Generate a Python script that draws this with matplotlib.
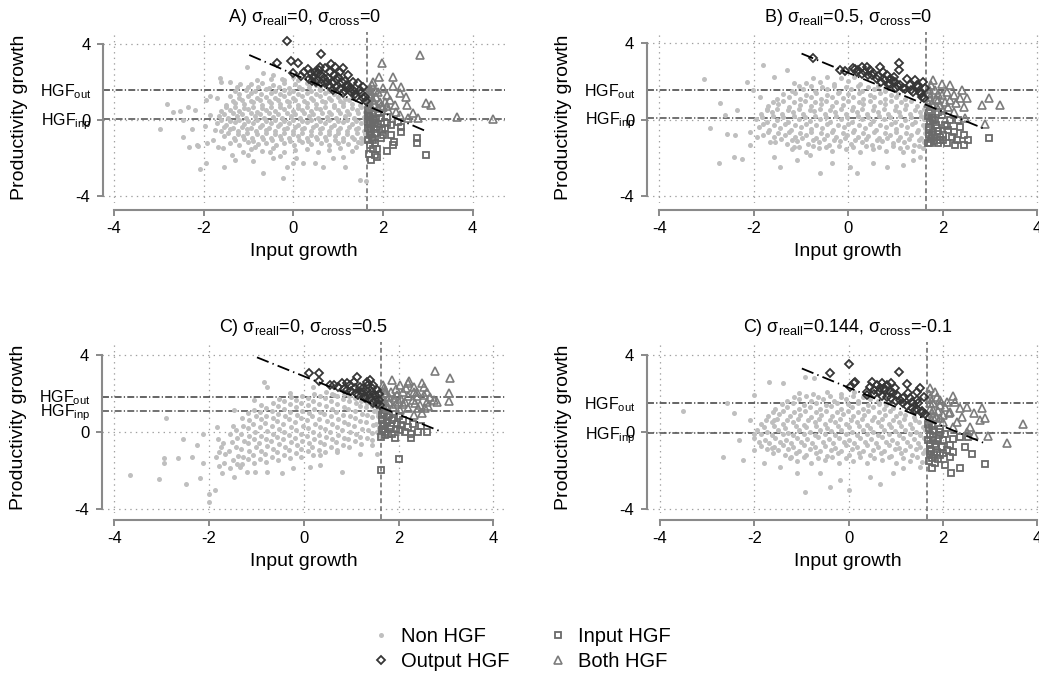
import matplotlib
matplotlib.use('Agg')
import matplotlib.pyplot as plt
from matplotlib.lines import Line2D
from matplotlib.transforms import blended_transform_factory

plt.rcParams['font.family'] = ['Liberation Sans', 'DejaVu Sans']
plt.rcParams['mathtext.fontset'] = 'custom'
plt.rcParams['mathtext.rm'] = 'Liberation Sans'
plt.rcParams['mathtext.it'] = 'Liberation Sans:italic'
plt.rcParams['axes.unicode_minus'] = False
plt.rcParams['lines.scale_dashes'] = False

# marker / line colours
GREY_DOT = '#bfbfbf'
OUT_C = '#363636'
INP_C = '#6a6a6a'
BOTH_C = '#7c7c7c'
AXIS_C = '#8a8a8a'

# ---------------- A) sigma_reall=0, sigma_cross=0 ----------------
a_non = [(-2.97,-0.47),(-2.82,0.84),(-2.69,0.42),(-2.52,0.47),(-2.46,0.0),(-2.45,-0.91),(-2.32,-1.4),
         (-2.12,-1.35),(-2.08,-2.58),(-1.94,-2.25),(-1.54,-2.46),(-1.04,2.77),(-1.63,2.19),(-0.68,-2.81),
         (-0.22,-3.07),(-2.34,0.67),(-2.19,0.53),(-2.26,-0.49),(-2.15,-1.32),(-1.93,-1.23),(-1.97,-0.33),
         (-1.86,0.28),(-1.94,1.07),(-1.86,1.25),(-1.71,1.16),(-1.6,2.0),(-1.41,2.0),(-1.26,1.74),(-1.19,1.9),
         (-1.74,-0.53),(-1.78,-1.05),(-1.67,-1.4),(-1.56,-1.49),(-1.3,-2.11),(-1.37,-1.84),(-1.11,-1.67),
         (-1.0,-1.84),(-0.89,-2.16),(-0.85,-1.4),(-0.44,-2.02),(-0.3,-1.9),(-0.15,-2.46),(0.0,-2.28),
         (-0.52,-1.67),(-0.67,2.46),(-0.45,2.37),(-0.26,2.14),(0.0,2.28),(1.49,-3.16),(1.62,-3.2),
         (1.15,-2.46),(0.67,-2.46),(0.48,-2.28),(0.22,-2.28),(1.11,-1.93),(1.41,-1.4),(1.52,-1.23),
         (0.89,-2.02),(0.07,-2.02),
         (-0.95,-1.55),(-0.7,-1.65),(-0.45,-1.5),(-0.2,-1.7),(0.05,-1.6),(0.3,-1.52),(0.55,-1.68),(0.8,-1.58),
         (1.05,-1.45),(1.3,-1.62),
         (-1.42,-1.2),(-1.2,-1.3),(-1.0,-1.18),(-0.78,-1.28),(-0.6,-1.2),(-0.38,-1.33),(-0.2,-1.22),(0.02,-1.3),
         (0.2,-1.17),(0.4,-1.27),(0.62,-1.2),(0.8,-1.32),(1.0,-1.22),(1.22,-1.28),(1.45,-1.15),
         (-1.3,-1.05),(-1.1,-1.0),(-0.9,-1.1),(-0.68,-1.02),(-0.48,-1.08),(-0.28,-1.0),(-0.08,-1.1),
         (0.12,-1.03),(0.32,-1.1),(0.52,-1.0),(0.72,-1.08),(0.92,-1.03),(1.12,-1.1),(1.35,-1.02),(1.55,-1.08),
         (-1.55,-0.85),(-1.33,-0.95),(-1.12,-0.86),(-0.92,-0.97),(-0.7,-0.88),(-0.5,-0.94),(-0.3,-0.82),
         (-0.1,-0.93),(0.1,-0.86),(0.3,-0.97),(0.5,-0.88),(0.7,-0.92),(0.92,-0.84),(1.1,-0.96),(1.3,-0.88),
         (1.52,-0.93),
         (-1.45,-0.7),(-1.22,-0.76),(-1.02,-0.68),(-0.8,-0.75),(-0.6,-0.7),(-0.4,-0.76),(-0.2,-0.68),
         (0.0,-0.75),(0.2,-0.7),(0.4,-0.77),(0.6,-0.69),(0.8,-0.75),(1.0,-0.7),(1.2,-0.76),(1.42,-0.7),
         (1.6,-0.74),
         (-1.62,-0.6),(-1.42,-0.5),(-1.22,-0.58),(-1.02,-0.48),(-0.82,-0.6),(-0.6,-0.52),(-0.4,-0.57),
         (-0.2,-0.47),(0.0,-0.6),(0.2,-0.5),(0.4,-0.58),(0.6,-0.5),(0.8,-0.6),(1.0,-0.52),(1.2,-0.57),
         (1.4,-0.48),(1.58,-0.56),
         (-1.55,-0.36),(-1.35,-0.4),(-1.15,-0.35),(-0.95,-0.42),(-0.75,-0.36),(-0.55,-0.4),(-0.35,-0.34),
         (-0.15,-0.41),(0.05,-0.36),(0.25,-0.42),(0.45,-0.35),(0.65,-0.4),(0.85,-0.36),(1.05,-0.42),
         (1.25,-0.35),(1.45,-0.4),(1.62,-0.36),
         (-1.7,-0.15),(-1.5,-0.25),(-1.3,-0.12),(-1.1,-0.23),(-0.9,-0.16),(-0.7,-0.26),(-0.5,-0.14),
         (-0.3,-0.22),(-0.1,-0.17),(0.1,-0.27),(0.3,-0.13),(0.5,-0.24),(0.7,-0.16),(0.9,-0.25),(1.1,-0.12),
         (1.3,-0.22),(1.5,-0.18),
         (-1.6,0.0),(-1.4,-0.05),(-1.2,0.02),(-1.0,-0.04),(-0.8,0.02),(-0.6,-0.04),(-0.4,0.0),(-0.2,-0.05),
         (0.0,0.02),(0.2,-0.04),(0.4,0.0),(0.6,-0.05),(0.8,0.01),(1.0,-0.04),(1.2,0.02),(1.4,-0.04),(1.6,0.0),
         (-1.65,0.2),(-1.45,0.1),(-1.25,0.22),(-1.05,0.12),(-0.85,0.2),(-0.65,0.08),(-0.45,0.18),(-0.25,0.12),
         (-0.05,0.22),(0.15,0.1),(0.35,0.19),(0.55,0.08),(0.75,0.17),(0.95,0.11),(1.15,0.22),(1.35,0.1),
         (1.58,0.16),
         (-1.55,0.32),(-1.35,0.36),(-1.15,0.3),(-0.95,0.36),(-0.75,0.31),(-0.55,0.35),(-0.35,0.3),
         (-0.15,0.37),(0.05,0.32),(0.25,0.36),(0.45,0.3),(0.65,0.35),(0.85,0.31),(1.05,0.36),(1.25,0.3),
         (1.45,0.35),(1.62,0.3),
         (-1.6,0.45),(-1.4,0.55),(-1.2,0.47),(-1.0,0.58),(-0.8,0.44),(-0.6,0.53),(-0.4,0.46),(-0.2,0.56),
         (0.0,0.45),(0.2,0.54),(0.4,0.48),(0.6,0.57),(0.8,0.44),(1.0,0.52),(1.2,0.47),(1.42,0.55),(1.6,0.42),
         (-1.5,0.66),(-1.3,0.7),(-1.1,0.65),(-0.9,0.7),(-0.7,0.64),(-0.5,0.7),(-0.3,0.66),(-0.1,0.71),
         (0.1,0.65),(0.3,0.7),(0.5,0.64),(0.7,0.7),(0.9,0.66),(1.1,0.71),(1.3,0.65),(1.5,0.68),
         (-1.5,0.8),(-1.3,0.9),(-1.1,0.82),(-0.9,0.92),(-0.7,0.8),(-0.5,0.88),(-0.3,0.83),(-0.1,0.93),
         (0.1,0.8),(0.3,0.9),(0.5,0.82),(0.7,0.92),(0.9,0.8),(1.1,0.88),(1.3,0.84),(1.48,0.78),
         (-1.35,1.02),(-1.15,1.06),(-0.95,1.0),(-0.75,1.05),(-0.55,1.0),(-0.35,1.06),(-0.15,1.01),(0.05,1.05),
         (0.25,1.0),(0.45,1.06),(0.65,1.0),(0.85,1.05),(1.05,1.0),(1.25,1.05),
         (-1.42,1.25),(-1.2,1.15),(-1.0,1.27),(-0.8,1.17),(-0.6,1.23),(-0.4,1.14),(-0.2,1.26),(0.0,1.18),
         (0.2,1.24),(0.4,1.15),(0.6,1.27),(0.8,1.16),(1.0,1.22),(1.15,1.12),
         (-1.2,1.36),(-0.95,1.4),(-0.72,1.35),(-0.5,1.4),(-0.3,1.35),(-0.1,1.4),(0.1,1.36),(0.3,1.4),
         (0.5,1.35),(0.7,1.4),(0.9,1.36),
         (-1.3,1.5),(-1.05,1.6),(-0.85,1.52),(-0.6,1.62),(-0.4,1.5),(-0.2,1.58),(0.0,1.52),(0.2,1.62),
         (0.4,1.5),(0.6,1.58),(0.8,1.52),
         (-1.0,1.72),(-0.78,1.75),(-0.55,1.7),(-0.32,1.76),(-0.1,1.7),(0.12,1.75),(0.35,1.72),(0.6,1.7),
         (-0.95,1.88),(-0.7,1.95),(-0.45,1.85),(-0.2,1.97),(0.05,1.9),(0.3,1.95),(0.5,1.85),
         (-0.8,2.1),(-0.5,2.15),(-0.2,2.08),(0.1,2.12)]
a_out = [(-0.15,4.17),(0.63,3.47),(-0.37,3.02),(-0.04,3.1),(0.11,3.0),(-0.01,2.49),(0.17,2.32),(0.33,2.67),
         (0.45,2.28),(0.59,2.81),(0.71,2.72),(0.85,2.95),(0.93,2.81),(1.04,2.54),(1.11,2.72),(1.22,2.37),
         (1.34,2.02),(1.45,1.93),(1.56,1.72),(1.34,1.58),(1.11,1.4),(0.89,1.93),(0.97,2.1),(0.78,2.19),
         (0.52,2.1),(0.63,2.37),(1.19,1.84),(1.52,1.4),(1.6,1.23),(1.41,1.19),(1.26,1.67),(0.82,2.54),
         (1.0,2.28),(1.08,2.02),(0.71,1.93),(0.89,1.6),(0.41,2.05),(0.56,2.46),(0.48,2.54),
         (0.35,2.15),(0.5,2.0),(0.62,1.95),(0.75,2.0),(0.8,1.85),(0.95,1.75),(1.05,1.62),(1.15,1.55),
         (1.2,1.75),(1.28,1.45),(1.38,1.35),(1.48,1.6),(1.55,1.15),(1.62,1.0),(0.68,2.2),(0.9,2.35),
         (1.15,2.05),(0.58,2.62),(0.4,2.45),(0.25,2.5)]
a_inp = [(1.67,0.26),(1.67,-0.09),(1.67,-0.44),(1.71,-0.79),(1.78,-1.05),(1.82,-1.23),(1.69,-1.79),
         (1.82,-1.84),(1.74,-2.1),(1.86,-1.93),(1.86,-1.54),(2.1,-1.61),(2.0,-0.79),(2.19,-0.79),(2.23,-1.32),
         (2.25,-1.14),(2.41,-0.35),(2.41,-0.61),(2.75,-0.96),(2.75,-1.23),(2.95,-1.84),(1.93,0.09),
         (2.08,-0.18),(2.19,-0.26),(1.86,-0.35),(1.97,-0.53),(1.78,0.0),(1.89,0.35),(2.08,0.18),(2.34,-0.1),
         (1.67,0.5),(1.71,0.18),(1.82,-0.7),(1.74,-0.61),(1.67,-1.05),
         (1.69,0.35),(1.72,-0.2),(1.7,-0.55),(1.75,-0.95),(1.8,-0.45),(1.78,0.3),(1.85,0.05),(1.9,-0.2),
         (1.72,-1.3),(1.77,-1.55),(1.95,-0.95),(2.05,-0.4),(1.7,0.0),(1.82,-0.15)]
a_both = [(2.82,3.42),(1.97,2.98),(1.77,2.02),(1.92,2.25),(2.23,2.28),(2.23,1.79),(2.41,1.72),(2.38,1.4),
          (2.51,1.23),(2.54,0.79),(2.67,0.35),(2.97,0.88),(3.08,0.79),(2.79,0.09),(2.56,0.09),(2.38,0.26),
          (3.65,0.18),(4.45,0.04),(1.71,1.67),(1.82,1.58),(2.0,1.67),(2.08,1.32),(1.93,0.96),(2.15,1.05),
          (2.26,0.79),(2.0,0.7),(1.78,1.05),(1.74,0.7),(2.3,0.44),(2.12,0.53),(1.89,0.62),(1.7,1.2),(1.71,0.79),
          (1.68,1.0),(1.72,1.35),(1.8,0.85),(1.85,1.2),(1.9,1.45),(1.95,0.75),(2.05,0.95),(1.7,1.55),
          (1.76,1.85),(2.1,0.75)]
a_diag = [(-0.98, 3.42), (3.0, -0.63)]

# ---------------- B) sigma_reall=0.5, sigma_cross=0 ----------------
b_non = [(-3.05,2.16),(-2.71,0.86),(-2.61,0.24),(-2.93,-0.45),(-2.73,-2.25),(-2.43,-1.94),(-2.26,-2.08),
         (-2.08,-1.33),(-1.8,2.86),(-1.3,2.6),(-2.15,1.99),(-2.01,1.55),(-2.36,0.51),(-2.57,-0.72),
         (-2.4,-0.8),(-2.08,-0.63),(-1.94,-0.89),(-1.58,-1.94),(-1.44,-2.46),(-1.09,-2.11),(-0.6,-2.81),
         (-0.35,-2.29),(0.04,-2.46),(0.18,-2.81),(0.53,-2.29),(0.81,-2.46),(1.16,-2.37),(1.38,-2.11),
         (1.52,-1.94),(-1.58,2.25),(-1.87,1.2),(-1.73,0.51),(-1.66,-1.15),(-1.16,-1.41),(-0.81,-1.85),
         (1.16,-1.68),(1.59,-1.5),
         (-1.2,-1.55),(-0.9,-1.7),(-0.62,-1.5),(-0.35,-1.66),(-0.05,-1.52),(0.25,-1.7),(0.52,-1.55),
         (0.8,-1.65),(1.1,-1.5),(1.38,-1.62),
         (-1.05,-1.4),(-0.75,-1.35),(-0.48,-1.42),(-0.2,-1.38),(0.1,-1.42),(0.38,-1.36),(0.65,-1.42),
         (0.95,-1.38),(1.25,-1.4),(1.5,-1.36),
         (-1.55,-1.15),(-1.3,-1.28),(-1.08,-1.1),(-0.85,-1.25),(-0.62,-1.15),(-0.4,-1.3),(-0.18,-1.12),
         (0.05,-1.25),(0.28,-1.18),(0.5,-1.32),(0.72,-1.1),(0.95,-1.24),(1.18,-1.14),(1.4,-1.3),(1.6,-1.18),
         (-1.42,-1.0),(-1.2,-1.05),(-0.98,-0.98),(-0.75,-1.05),(-0.52,-1.0),(-0.3,-1.05),(-0.08,-0.98),
         (0.15,-1.05),(0.38,-1.0),(0.6,-1.06),(0.82,-0.98),(1.05,-1.05),(1.28,-0.99),(1.5,-1.05),
         (-1.8,-0.8),(-1.58,-0.92),(-1.35,-0.78),(-1.12,-0.9),(-0.9,-0.8),(-0.68,-0.95),(-0.45,-0.82),
         (-0.25,-0.9),(-0.02,-0.78),(0.2,-0.92),(0.42,-0.83),(0.65,-0.95),(0.88,-0.8),(1.1,-0.9),(1.32,-0.82),
         (1.55,-0.95),
         (-1.7,-0.64),(-1.48,-0.68),(-1.25,-0.62),(-1.02,-0.68),(-0.8,-0.62),(-0.58,-0.68),(-0.35,-0.63),
         (-0.12,-0.69),(0.1,-0.62),(0.32,-0.68),(0.55,-0.63),(0.78,-0.68),(1.0,-0.62),(1.22,-0.68),
         (1.45,-0.63),(1.62,-0.68),
         (-1.9,-0.4),(-1.68,-0.52),(-1.45,-0.42),(-1.22,-0.55),(-1.0,-0.38),(-0.78,-0.5),(-0.55,-0.42),
         (-0.32,-0.55),(-0.1,-0.4),(0.12,-0.52),(0.35,-0.45),(0.58,-0.56),(0.8,-0.4),(1.02,-0.5),(1.25,-0.38),
         (1.48,-0.52),(1.62,-0.42),
         (-1.8,-0.22),(-1.58,-0.27),(-1.35,-0.22),(-1.12,-0.28),(-0.9,-0.22),(-0.68,-0.27),(-0.45,-0.22),
         (-0.22,-0.28),(0.0,-0.22),(0.22,-0.27),(0.45,-0.22),(0.68,-0.28),(0.9,-0.22),(1.12,-0.27),
         (1.35,-0.22),(1.58,-0.27),
         (-1.95,0.02),(-1.72,-0.1),(-1.5,0.0),(-1.28,-0.12),(-1.05,0.04),(-0.82,-0.08),(-0.6,0.05),
         (-0.38,-0.1),(-0.15,0.02),(0.08,-0.12),(0.3,0.03),(0.52,-0.06),(0.75,0.06),(0.98,-0.1),(1.2,0.0),
         (1.42,-0.12),(1.6,0.04),
         (-1.82,0.15),(-1.6,0.18),(-1.38,0.13),(-1.15,0.18),(-0.92,0.14),(-0.7,0.19),(-0.48,0.13),
         (-0.25,0.18),(-0.02,0.14),(0.2,0.19),(0.42,0.13),(0.65,0.18),(0.88,0.14),(1.1,0.19),(1.32,0.13),
         (1.55,0.18),
         (-1.85,0.3),(-1.62,0.42),(-1.4,0.28),(-1.18,0.4),(-0.95,0.3),(-0.72,0.44),(-0.5,0.32),(-0.28,0.4),
         (-0.05,0.28),(0.18,0.42),(0.4,0.3),(0.62,0.4),(0.85,0.28),(1.08,0.42),(1.3,0.32),(1.52,0.4),
         (-1.72,0.55),(-1.5,0.58),(-1.28,0.52),(-1.05,0.58),(-0.82,0.53),(-0.6,0.58),(-0.38,0.52),
         (-0.15,0.58),(0.08,0.53),(0.3,0.58),(0.52,0.52),(0.75,0.58),(0.98,0.53),(1.2,0.58),(1.42,0.53),
         (1.6,0.56),
         (-1.7,0.7),(-1.48,0.82),(-1.25,0.68),(-1.02,0.8),(-0.8,0.72),(-0.58,0.84),(-0.35,0.7),(-0.12,0.8),
         (0.1,0.68),(0.32,0.82),(0.55,0.72),(0.78,0.84),(1.0,0.7),(1.22,0.8),(1.45,0.72),
         (-1.6,0.95),(-1.38,0.98),(-1.15,0.92),(-0.92,0.98),(-0.7,0.93),(-0.48,0.98),(-0.25,0.92),(0.0,0.98),
         (0.22,0.93),(0.45,0.98),(0.68,0.92),(0.9,0.98),(1.12,0.93),(1.32,0.96),
         (-1.5,1.1),(-1.25,1.22),(-1.02,1.1),(-0.8,1.2),(-0.58,1.08),(-0.35,1.22),(-0.12,1.12),(0.1,1.2),
         (0.32,1.08),(0.55,1.2),(0.78,1.1),(1.0,1.2),(1.2,1.1),
         (-1.38,1.33),(-1.12,1.38),(-0.9,1.32),(-0.68,1.38),(-0.45,1.32),(-0.22,1.38),(0.0,1.33),(0.22,1.38),
         (0.45,1.32),(0.68,1.38),(0.9,1.32),(1.05,1.35),
         (-1.2,1.5),(-0.95,1.62),(-0.7,1.5),(-0.45,1.6),(-0.2,1.48),(0.05,1.6),(0.3,1.52),(0.55,1.6),(0.78,1.5),
         (-1.05,1.75),(-0.8,1.78),(-0.55,1.72),(-0.3,1.78),(-0.05,1.73),(0.2,1.78),(0.42,1.72),(0.62,1.76),
         (-1.15,1.95),(-0.9,1.92),(-0.6,2.0),(-0.3,1.9),(0.0,2.02),(0.25,1.9),
         (-0.75,2.2),(-0.45,2.25),(-0.15,2.18),(0.12,2.22)]
b_out = [(-0.75,3.26),(-0.17,2.6),(-0.07,2.57),(0.11,2.69),(0.21,2.6),(0.28,2.77),(0.36,2.51),(0.46,2.6),
         (0.42,2.34),(0.67,2.77),(0.74,2.51),(0.81,2.34),(0.88,2.16),(0.99,1.99),(1.08,2.98),(1.08,2.6),
         (1.24,2.16),(1.41,2.08),(1.58,1.99),(1.63,1.69),(1.51,1.47),(1.33,1.55),(1.16,1.64),(1.02,1.69),
         (0.85,1.9),(0.6,2.16),(0.18,2.51),(0.53,2.43),(0.78,2.08),(1.45,1.82),(1.56,1.2),(1.1,1.82),(0.96,2.25),
         (0.3,2.4),(0.5,2.35),(0.62,2.3),(0.7,2.0),(0.88,1.85),(0.95,2.05),(1.05,1.75),(1.2,1.6),(1.3,1.8),
         (1.38,1.45),(1.48,1.7),(1.55,1.35),(1.6,1.15),(0.15,2.65),(0.4,2.75)]
b_inp = [(1.7,0.33),(1.7,-0.37),(1.7,-0.8),(1.73,-1.24),(1.91,-1.24),(2.08,-1.24),(2.26,-1.33),(2.44,-1.33),
         (2.54,-1.06),(2.44,-0.8),(2.23,-0.63),(2.19,-0.89),(2.05,-0.28),(1.87,-0.45),(1.84,-0.02),(1.98,0.24),
         (2.15,-0.02),(2.33,-0.02),(2.37,-0.37),(2.97,-0.98),(2.01,-0.8),(1.84,-0.89),(1.8,-0.63),(1.94,-1.07),
         (2.12,-0.54),(2.3,-1.07),(1.77,0.07),(1.91,0.42),
         (1.68,0.2),(1.72,-0.1),(1.7,-0.55),(1.75,-1.0),(1.8,0.0),(1.85,-0.25),(1.78,-0.8),(1.9,-0.6),
         (1.95,-0.9),(1.72,0.45),(1.82,-1.1),(2.0,-1.05),(2.1,-0.3),(1.68,-1.2)]
b_both = [(1.8,2.08),(1.98,1.9),(2.15,1.82),(2.4,1.55),(2.51,1.12),(2.37,1.12),(2.44,0.68),(2.23,1.29),
          (1.91,1.03),(1.98,1.29),(1.84,1.55),(1.73,1.03),(1.7,1.38),(2.83,0.77),(2.99,1.12),(3.21,0.77),
          (2.9,-0.23),(2.12,0.68),(2.23,0.42),(2.47,0.07),(2.01,0.51),(1.87,0.68),(1.73,0.59),(2.15,1.03),
          (2.29,0.86),
          (1.68,0.9),(1.72,1.2),(1.78,0.85),(1.85,1.1),(1.9,1.35),(1.95,0.8),(1.7,1.6),(1.75,1.8),
          (2.05,0.95),(2.08,1.45)]
b_diag = [(-0.99, 3.47), (2.86, -0.45)]

# ---------------- C) sigma_reall=0, sigma_cross=0.5 ----------------
c_non = [(-3.68,-2.26),(-3.05,-2.47),(-2.96,-1.39),(-2.96,-1.65),(-2.91,0.73),(-2.65,-1.39),(-2.49,-2.73),
         (-2.55,-0.35),(-2.36,-1.3),(-2.01,-3.65),(-2.01,-3.22),(-1.87,-3.04),(-2.19,-2.43),(-2.12,-1.65),
         (-1.8,-1.04),(-1.73,-2.17),(-1.48,-2.35),(-1.34,-1.83),(-1.2,-2.09),(-1.03,-2.09),(-0.78,-2.09),
         (-0.46,-2.17),(-0.22,-1.91),(0.13,-1.83),(0.34,-1.74),(0.8,-2.09),(0.34,-1.22),(0.7,-1.04),
         (1.19,-1.13),(1.44,-0.7),(-0.85,2.61),(-0.78,2.35),(-0.29,2.0),(0.2,2.35),(0.63,1.91),(-1.06,1.65),
         (-1.48,1.13),(-1.84,0.26),(-2.12,-0.09),(-2.26,-0.7),(1.54,-1.13),
         (-1.8,-1.8),(-1.85,-1.3),(-1.75,-0.8),(-1.82,-0.35),
         (-1.68,-1.6),(-1.66,-1.15),(-1.7,-0.6),
         (-1.55,-1.9),(-1.5,-1.45),(-1.58,-1.0),(-1.52,-0.55),(-1.55,-0.1),(-1.5,0.3),
         (-1.42,-1.7),(-1.4,-1.25),(-1.44,-0.78),(-1.41,-0.32),(-1.43,0.1),
         (-1.3,-1.7),(-1.28,-1.3),(-1.33,-0.9),(-1.27,-0.5),(-1.32,-0.1),(-1.28,0.3),(-1.3,0.7),
         (-1.17,-1.4),(-1.15,-1.0),(-1.19,-0.6),(-1.16,-0.2),(-1.18,0.2),(-1.15,0.6),(-1.17,0.98),
         (-1.05,-1.6),(-1.08,-1.2),(-1.02,-0.8),(-1.06,-0.4),(-1.03,0.0),(-1.07,0.4),(-1.02,0.8),(-1.05,1.15),
         (-0.92,-1.4),(-0.9,-1.0),(-0.94,-0.6),(-0.91,-0.2),(-0.93,0.25),(-0.9,0.65),(-0.92,1.05),(-0.9,1.4),
         (-0.8,-1.55),(-0.82,-1.15),(-0.78,-0.75),(-0.81,-0.35),(-0.77,0.05),(-0.82,0.45),(-0.79,0.85),
         (-0.8,1.25),
         (-0.67,-1.3),(-0.65,-0.9),(-0.69,-0.5),(-0.66,-0.1),(-0.68,0.3),(-0.65,0.7),(-0.67,1.1),(-0.66,1.5),
         (-0.55,-1.45),(-0.57,-1.05),(-0.53,-0.65),(-0.56,-0.25),(-0.52,0.15),(-0.57,0.55),(-0.54,0.95),
         (-0.55,1.35),(-0.52,1.7),
         (-0.42,-1.2),(-0.4,-0.8),(-0.44,-0.4),(-0.41,0.0),(-0.43,0.4),(-0.4,0.8),(-0.42,1.2),(-0.41,1.6),
         (-0.3,-1.35),(-0.32,-0.95),(-0.28,-0.55),(-0.31,-0.15),(-0.27,0.25),(-0.32,0.65),(-0.29,1.05),
         (-0.3,1.45),(-0.28,1.8),
         (-0.17,-1.1),(-0.15,-0.7),(-0.19,-0.3),(-0.16,0.1),(-0.18,0.5),(-0.15,0.9),(-0.17,1.3),(-0.16,1.68),
         (-0.05,-1.3),(-0.07,-0.9),(-0.03,-0.5),(-0.06,-0.1),(-0.02,0.3),(-0.07,0.7),(-0.04,1.1),(-0.05,1.5),
         (-0.03,1.85),
         (0.08,-1.0),(0.1,-0.6),(0.06,-0.2),(0.09,0.2),(0.07,0.6),(0.1,1.0),(0.08,1.4),(0.09,1.78),
         (0.2,-1.2),(0.18,-0.8),(0.22,-0.4),(0.19,0.0),(0.23,0.4),(0.18,0.8),(0.21,1.2),(0.2,1.6),(0.22,1.95),
         (0.33,-0.95),(0.35,-0.55),(0.31,-0.15),(0.34,0.25),(0.32,0.65),(0.35,1.05),(0.33,1.45),(0.34,1.85),
         (0.45,-1.05),(0.43,-0.65),(0.47,-0.25),(0.44,0.15),(0.48,0.55),(0.43,0.95),(0.46,1.35),(0.45,1.75),
         (0.47,2.1),
         (0.58,-0.8),(0.6,-0.4),(0.56,0.0),(0.59,0.4),(0.57,0.8),(0.6,1.2),(0.58,1.6),(0.59,1.95),
         (0.7,-0.95),(0.68,-0.55),(0.72,-0.15),(0.69,0.25),(0.73,0.65),(0.68,1.05),(0.71,1.45),(0.7,1.85),
         (0.83,-0.7),(0.85,-0.3),(0.81,0.1),(0.84,0.5),(0.82,0.9),(0.85,1.3),(0.83,1.7),(0.84,1.98),
         (0.95,-0.8),(0.93,-0.4),(0.97,0.0),(0.94,0.4),(0.98,0.8),(0.93,1.2),(0.96,1.6),(0.95,1.85),
         (1.08,-0.5),(1.1,-0.1),(1.06,0.3),(1.09,0.7),(1.07,1.1),(1.1,1.5),(1.08,1.75),
         (1.2,-0.65),(1.18,-0.25),(1.22,0.15),(1.19,0.55),(1.23,0.95),(1.18,1.35),(1.21,1.6),
         (1.33,-0.3),(1.35,0.1),(1.31,0.5),(1.34,0.9),(1.32,1.3),(1.33,1.5),
         (1.45,-0.45),(1.43,-0.05),(1.47,0.35),(1.44,0.75),(1.48,1.1),(1.45,1.35),
         (1.55,0.0),(1.53,0.4),(1.56,0.8),(1.54,1.15),
         (1.6,-0.2),(1.58,0.2),(1.6,0.6),(1.57,1.0),(1.6,1.25)]
c_out = [(0.1,3.04),(0.33,3.04),(0.33,2.66),(0.56,2.43),(0.8,2.52),(0.91,2.17),(1.05,2.61),(1.12,2.87),
         (1.19,2.35),(1.33,2.61),(1.4,2.7),(1.47,2.43),(1.54,2.17),(1.37,1.91),(1.26,2.09),(1.08,2.26),
         (0.98,2.43),(1.58,1.65),(1.47,1.48),(1.29,1.74),(1.15,1.91),(0.91,2.52),(0.63,2.43),(1.44,2.26),
         (1.51,1.91),
         (1.3,1.85),(1.4,1.75),(1.5,1.65),(1.55,1.45),(1.6,1.4),(1.2,2.05),(1.1,2.0),(1.0,2.15),(0.85,2.25),
         (0.72,2.35),(1.25,2.3),(1.35,2.45),(1.45,2.05),(1.58,1.95)]
c_inp = [(1.63,-2.0),(2.02,-1.44),(1.63,-0.26),(1.72,-0.17),(1.93,-0.3),(2.03,0.09),(2.14,0.0),(2.26,-0.09),
         (2.26,-0.3),(2.42,0.0),(2.47,0.3),(2.61,0.0),(2.3,0.43),(1.68,0.43),(1.75,0.78),(1.86,0.61),
         (1.96,0.43),(1.82,0.17),(1.65,0.87),(1.68,0.17),(2.1,0.61),(2.0,0.8),(2.21,0.26),(1.65,0.09),
         (1.86,-0.09),
         (1.66,0.6),(1.7,0.3),(1.7,1.0),(1.75,0.5),(1.8,0.9),(1.85,0.3),(1.9,0.7),(1.72,0.0),(1.78,-0.1),
         (1.95,0.15),(2.05,0.35),(1.67,1.15)]
c_both = [(2.77,3.17),(3.08,2.83),(3.06,2.0),(3.06,1.62),(2.81,1.57),(2.63,1.34),(2.49,0.96),(2.32,0.87),
          (2.49,2.52),(2.53,2.35),(2.32,2.35),(2.21,2.52),(2.23,2.66),(1.86,2.7),(2.32,2.09),(2.1,2.09),
          (1.96,1.91),(1.79,1.83),(2.14,1.57),(2.35,1.48),(2.53,1.91),(2.67,1.83),(2.6,1.57),(1.72,2.17),
          (1.68,1.48),(1.89,1.3),(2.03,1.13),(2.21,1.22),(1.75,1.25),(2.0,1.57),(2.42,1.22),(2.56,1.22),
          (2.74,1.65),(2.03,2.43),(1.68,2.43),(1.65,1.83),
          (1.68,1.7),(1.72,2.0),(1.7,2.3),(1.8,1.55),(1.85,2.05),(1.9,1.75),(1.95,2.25),(2.05,1.7),(2.1,1.45),
          (2.2,1.85),(2.3,1.65),(2.4,1.85),(2.45,1.4),(1.75,1.4),(1.95,1.45),(2.15,2.3),(2.4,2.1),(2.6,2.1)]
c_diag = [(-0.99, 3.88), (2.86, 0.05)]

# ---------------- C) sigma_reall=0.144, sigma_cross=-0.1 ----------------
d_non = [(-3.51,1.1),(-2.66,-1.3),(-2.24,-1.48),(-2.58,1.51),(-2.43,0.96),(-2.33,-0.43),(-2.01,-0.09),
         (-2.01,-0.96),(-1.69,2.61),(-1.38,2.52),(-2.01,1.91),(-0.92,2.87),(-0.74,2.78),(-1.09,-2.17),
         (-1.45,-1.83),(-1.8,-1.65),(-0.92,-3.13),(-0.39,-2.87),(0.0,-3.04),(0.46,-2.35),(0.67,-2.7),
         (0.95,-2.17),(1.16,-1.91),(1.52,-1.83),(-0.18,-2.52),(-0.6,-2.17),(-1.59,0.61),(-2.08,0.61),
         (-1.59,-0.78),(-1.23,-1.3),
         (-1.1,-1.5),(-0.8,-1.62),(-0.5,-1.48),(-0.2,-1.65),(0.1,-1.52),(0.4,-1.6),(0.7,-1.45),(1.0,-1.63),
         (1.3,-1.5),(1.55,-1.58),
         (-1.25,-1.35),(-0.95,-1.3),(-0.65,-1.38),(-0.35,-1.32),(-0.05,-1.38),(0.25,-1.32),(0.55,-1.38),
         (0.85,-1.32),(1.15,-1.38),(1.45,-1.32),
         (-1.6,-1.1),(-1.35,-1.22),(-1.12,-1.08),(-0.9,-1.2),(-0.68,-1.12),(-0.45,-1.25),(-0.22,-1.1),
         (0.0,-1.2),(0.22,-1.08),(0.45,-1.22),(0.68,-1.12),(0.9,-1.25),(1.12,-1.1),(1.35,-1.2),(1.58,-1.1),
         (-1.72,-0.92),(-1.5,-0.97),(-1.28,-0.92),(-1.05,-0.98),(-0.82,-0.92),(-0.6,-0.98),(-0.38,-0.93),
         (-0.15,-0.98),(0.08,-0.92),(0.3,-0.98),(0.52,-0.93),(0.75,-0.98),(0.98,-0.92),(1.2,-0.97),
         (1.42,-0.92),(1.62,-0.96),
         (-1.85,-0.72),(-1.62,-0.82),(-1.4,-0.7),(-1.18,-0.8),(-0.95,-0.68),(-0.72,-0.8),(-0.5,-0.72),
         (-0.28,-0.84),(-0.05,-0.7),(0.18,-0.8),(0.4,-0.68),(0.62,-0.78),(0.85,-0.7),(1.08,-0.82),(1.3,-0.72),
         (1.52,-0.8),
         (-1.9,-0.52),(-1.68,-0.57),(-1.45,-0.52),(-1.22,-0.58),(-1.0,-0.52),(-0.78,-0.57),(-0.55,-0.52),
         (-0.32,-0.58),(-0.1,-0.52),(0.12,-0.57),(0.35,-0.52),(0.58,-0.58),(0.8,-0.52),(1.02,-0.57),
         (1.25,-0.52),(1.48,-0.57),
         (-2.0,-0.3),(-1.78,-0.42),(-1.55,-0.32),(-1.32,-0.44),(-1.1,-0.3),(-0.88,-0.4),(-0.65,-0.28),
         (-0.42,-0.4),(-0.2,-0.32),(0.02,-0.44),(0.25,-0.3),(0.48,-0.4),(0.7,-0.28),(0.92,-0.42),(1.15,-0.3),
         (1.38,-0.4),(1.6,-0.32),
         (-1.85,-0.13),(-1.62,-0.18),(-1.4,-0.12),(-1.18,-0.18),(-0.95,-0.13),(-0.72,-0.18),(-0.5,-0.12),
         (-0.28,-0.18),(-0.05,-0.13),(0.18,-0.18),(0.4,-0.12),(0.62,-0.18),(0.85,-0.13),(1.08,-0.18),
         (1.3,-0.12),(1.52,-0.17),
         (-1.95,0.1),(-1.72,-0.02),(-1.5,0.08),(-1.28,-0.04),(-1.05,0.1),(-0.82,0.0),(-0.6,0.12),(-0.38,0.02),
         (-0.15,0.1),(0.08,-0.02),(0.3,0.08),(0.52,0.0),(0.75,0.12),(0.98,0.02),(1.2,0.1),(1.42,-0.02),
         (1.62,0.08),
         (-1.8,0.25),(-1.58,0.28),(-1.35,0.22),(-1.12,0.28),(-0.9,0.23),(-0.68,0.28),(-0.45,0.22),
         (-0.22,0.28),(0.0,0.23),(0.22,0.28),(0.45,0.22),(0.68,0.28),(0.9,0.23),(1.12,0.28),(1.35,0.22),
         (1.58,0.27),
         (-1.85,0.4),(-1.62,0.52),(-1.4,0.4),(-1.18,0.5),(-0.95,0.38),(-0.72,0.5),(-0.5,0.42),(-0.28,0.52),
         (-0.05,0.4),(0.18,0.5),(0.4,0.38),(0.62,0.5),(0.85,0.42),(1.08,0.52),(1.3,0.4),(1.5,0.5),
         (-1.75,0.63),(-1.52,0.68),(-1.3,0.62),(-1.08,0.68),(-0.85,0.63),(-0.62,0.68),(-0.4,0.62),
         (-0.18,0.68),(0.05,0.63),(0.28,0.68),(0.5,0.62),(0.72,0.68),(0.95,0.63),(1.18,0.66),(1.4,0.62),
         (-1.7,0.8),(-1.48,0.92),(-1.25,0.8),(-1.02,0.9),(-0.8,0.78),(-0.58,0.9),(-0.35,0.82),(-0.12,0.92),
         (0.1,0.8),(0.32,0.9),(0.55,0.78),(0.78,0.88),(1.0,0.8),(1.2,0.9),(1.38,0.78),
         (-1.6,1.03),(-1.38,1.08),(-1.15,1.02),(-0.92,1.08),(-0.7,1.03),(-0.48,1.08),(-0.25,1.02),
         (-0.02,1.08),(0.2,1.03),(0.42,1.08),(0.65,1.02),(0.88,1.06),(1.1,1.0),
         (-1.55,1.2),(-1.3,1.3),(-1.05,1.18),(-0.82,1.3),(-0.6,1.2),(-0.38,1.32),(-0.15,1.2),(0.08,1.3),
         (0.3,1.18),(0.52,1.28),(0.75,1.2),(0.95,1.25),
         (-1.42,1.43),(-1.18,1.48),(-0.95,1.42),(-0.7,1.48),(-0.48,1.42),(-0.25,1.48),(-0.02,1.43),(0.2,1.48),
         (0.42,1.42),(0.65,1.47),(0.8,1.4),
         (-1.3,1.6),(-1.05,1.7),(-0.8,1.6),(-0.55,1.72),(-0.3,1.6),(-0.05,1.7),(0.2,1.6),(0.45,1.7),(0.62,1.58),
         (-1.15,1.83),(-0.9,1.88),(-0.65,1.82),(-0.4,1.88),(-0.15,1.83),(0.1,1.88),(0.3,1.82),
         (-1.05,2.02),(-0.75,1.95),(-0.45,2.05),(-0.15,1.98),(0.12,2.05)]
d_out = [(-0.39,3.08),(0.0,3.53),(1.06,3.13),(0.11,2.52),(0.04,2.35),(0.14,2.61),(0.49,2.61),(0.6,2.43),
         (0.71,2.52),(0.81,2.43),(0.78,2.17),(0.88,2.09),(0.67,2.26),(0.53,2.17),(0.39,1.91),(0.99,2.26),
         (1.24,2.49),(1.27,2.0),(1.45,2.09),(1.52,2.26),(1.59,1.83),(1.48,1.48),(1.34,1.57),(1.16,1.74),
         (1.02,1.91),(1.09,1.65),(0.95,2.0),(1.41,1.13),(1.55,0.96),(0.81,1.83),(0.64,2.09),(0.46,2.35),
         (0.4,2.1),(0.55,1.95),(0.7,1.85),(0.9,1.75),(1.0,1.6),(1.15,1.5),(1.25,1.35),(1.35,1.25),(1.45,1.2),
         (1.55,1.1),(1.62,0.95),(1.3,1.75),(0.75,2.3),(0.9,2.55),(1.45,1.65)]
d_inp = [(1.69,0.43),(1.69,-0.43),(1.73,-1.13),(1.76,-1.91),(1.83,-1.65),(2.05,-1.74),(2.17,-2.17),
         (2.36,-1.91),(2.47,-0.78),(2.61,-1.13),(2.89,-1.69),(2.15,-1.3),(1.94,-1.22),(1.98,-0.78),(2.15,-0.7),
         (2.22,-0.35),(2.36,-0.26),(2.54,-0.26),(1.8,0.09),(1.91,-0.17),(1.83,-0.61),(2.01,-0.43),(1.73,-0.87),
         (1.87,-1.04),(1.76,-1.39),(2.08,-0.96),(2.22,-1.04),(2.05,-0.09),(1.8,-0.26),(1.94,0.17),
         (1.7,0.2),(1.72,-0.15),(1.72,-0.65),(1.75,-1.0),(1.8,-0.45),(1.85,-0.8),(1.9,-0.35),(1.78,0.3),
         (1.9,-1.4),(1.95,0.0),(1.7,-1.5),(2.0,-1.1),(1.82,-1.2)]
d_both = [(1.73,2.26),(1.83,2.09),(2.22,1.86),(2.08,1.57),(2.26,1.57),(2.51,1.27),(2.82,1.22),(2.65,0.96),
          (2.79,0.61),(2.89,0.7),(2.58,0.26),(2.96,-0.23),(3.35,-0.57),(3.69,0.4),(2.12,0.96),(1.94,0.7),
          (1.8,1.13),(1.94,1.39),(2.4,0.78),(2.29,0.52),(2.51,0.0),(2.65,-0.17),(2.15,1.04),(1.73,1.74),
          (1.87,1.83),(2.36,1.22),(1.73,1.48),(1.8,0.78),(2.22,0.26),(2.01,0.52),
          (1.7,0.85),(1.72,1.2),(1.78,1.0),(1.8,1.5),(1.85,0.75),(1.9,1.1),(1.95,1.65),(2.0,0.9),(1.7,1.95),
          (1.75,0.65),(2.05,1.3)]
d_diag = [(-0.99, 3.3), (2.86, -0.57)]

# thresholds per panel: input-growth cut, output HGF and input HGF productivity levels
x_cut = [1.65, 1.65, 1.63, 1.67]
y_hgf_out = [1.58, 1.55, 1.83, 1.5]
y_hgf_inp = [0.05, 0.07, 1.1, -0.07]

titles = [r'A) σ$_{\mathregular{reall}}$=0, σ$_{\mathregular{cross}}$=0',
          r'B) σ$_{\mathregular{reall}}$=0.5, σ$_{\mathregular{cross}}$=0',
          r'C) σ$_{\mathregular{reall}}$=0, σ$_{\mathregular{cross}}$=0.5',
          r'C) σ$_{\mathregular{reall}}$=0.144, σ$_{\mathregular{cross}}$=-0.1']

W, H = 1039, 685
fig = plt.figure(figsize=(W / 100, H / 100), dpi=100)

# plot boxes in pixels (left, top, right, bottom) and axis ranges
boxes = [(103, 32, 505, 203), (646.7, 32, 1049.9, 203),
         (101.7, 342, 506, 513), (646.7, 342, 1049.9, 513)]
xlims = [(-4.24, 4.72), (-4.27, 4.27), (-4.27, 4.27), (-4.28, 4.27)]
ylims = [(-4.37, 4.63), (-4.36, 4.6), (-4.23, 4.68), (-4.23, 4.68)]

NON_KW = dict(ls='none', marker='o', ms=3.6, color=GREY_DOT, mec='none')
OUT_KW = dict(ls='none', marker='D', ms=4.5, mfc='none', mec=OUT_C, mew=1.3)
INP_KW = dict(ls='none', marker='s', ms=5.0, mfc='none', mec=INP_C, mew=1.3)
BOTH_KW = dict(ls='none', marker='^', ms=5.6, mfc='none', mec=BOTH_C, mew=1.2)

groups = [(a_non, a_out, a_inp, a_both, a_diag),
          (b_non, b_out, b_inp, b_both, b_diag),
          (c_non, c_out, c_inp, c_both, c_diag),
          (d_non, d_out, d_inp, d_both, d_diag)]


def scatter(ax, pts, kw):
    xs, ys = zip(*pts)
    ax.plot(xs, ys, zorder=3, **kw)


for i, (non, out, inp, both, diag) in enumerate(groups):
    l, t, r, b = boxes[i]
    ax = fig.add_axes([l / W, 1 - b / H, (r - l) / W, (b - t) / H])
    ax.set_xlim(xlims[i])
    ax.set_ylim(ylims[i])

    ax.set_xticks([-4, -2, 0, 2, 4])
    ax.set_yticks([-4, 0, 4])
    ax.grid(True, ls=(0, (1, 3)), color='#a0a0a0', lw=0.9, zorder=0)
    ax.set_axisbelow(True)

    for s in ('top', 'right'):
        ax.spines[s].set_visible(False)
    ax.spines['left'].set_bounds(-4, 4)
    ax.spines['bottom'].set_bounds(-4, 4)
    ax.spines['bottom'].set_position(('outward', 5))
    for s in ('left', 'bottom'):
        ax.spines[s].set_color(AXIS_C)
        ax.spines[s].set_linewidth(1.5)
    ax.tick_params(colors=AXIS_C, labelcolor='black', length=4, width=1.4, labelsize=12)
    ax.tick_params(axis='x', pad=4)
    ax.tick_params(axis='y', pad=5)

    # threshold lines
    ax.axhline(y_hgf_out[i], color='#3a3a3a', lw=1.1, ls=(0, (5, 1.6, 0.9, 1.6)), zorder=1)
    ax.axhline(y_hgf_inp[i], color='#4a4a4a', lw=1.1, ls=(0, (5, 1.6, 0.9, 1.6)), zorder=1)
    ax.axvline(x_cut[i], ymin=-0.035, ymax=1, color='#666666', lw=1.1, ls=(0, (3.5, 2.2)),
               zorder=1, clip_on=False)

    scatter(ax, non, NON_KW)
    scatter(ax, inp, INP_KW)
    scatter(ax, both, BOTH_KW)
    scatter(ax, out, OUT_KW)

    dx, dy = zip(*diag)
    ax.plot(dx, dy, color='black', lw=1.3, ls=(0, (9, 3, 1, 3)), zorder=4)

    trans = blended_transform_factory(ax.transAxes, ax.transData)
    for yv, lab in ((y_hgf_out[i], r'HGF$_{\mathregular{out}}$'), (y_hgf_inp[i], r'HGF$_{\mathregular{inp}}$')):
        ax.annotate(lab, xy=(0, yv), xycoords=trans, xytext=(-8, -4.3), textcoords='offset points',
                    ha='right', va='baseline', fontsize=11.5, annotation_clip=False)

    ax.set_title(titles[i], fontsize=13, pad=7)
    ax.set_xlabel('Input growth', fontsize=14, labelpad=5)
    ax.set_ylabel('Productivity growth', fontsize=14)
    ax.yaxis.set_label_coords(-0.186, 0.5)

handles = [Line2D([], [], **NON_KW), Line2D([], [], **OUT_KW),
           Line2D([], [], **INP_KW), Line2D([], [], **BOTH_KW)]
labels = ['Non HGF', 'Output HGF', 'Input HGF', 'Both HGF']
fig.legend(handles, labels, ncol=2, loc='center', bbox_to_anchor=(0.502, 0.052), frameon=False,
           fontsize=14.5, handlelength=0.8, handletextpad=0.6, columnspacing=2.0, labelspacing=0.3)

fig.savefig('out.png', dpi=100)
